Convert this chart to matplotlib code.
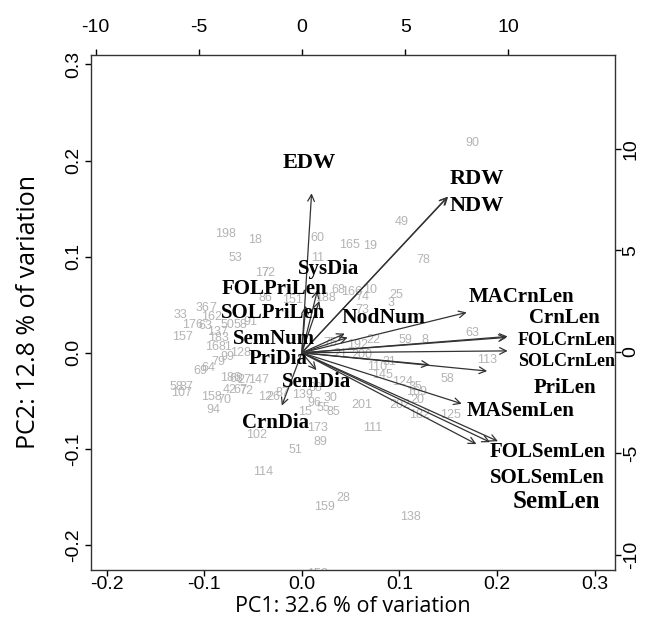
import matplotlib
matplotlib.use("Agg")
from matplotlib import pyplot as plt

plt.rcParams['axes.unicode_minus'] = False

# observation scores (top / right axes)
obs_labels = ['90', '198', '18', '60', '165', '19', '49', '78', '53', '11',
              '17', '72', '68', '166', '10', '74', '25', '3', '73', '151',
              '86', '188', '36', '7', '33', '162', '176', '63', '50', '58',
              '91', '157', '137', '183', '16', '81', '99', '128', '79', '64',
              '69', '58', '87', '107', '42', '67', '72', '158', '70', '94',
              '186', '68', '27', '147', '12', '26', '87', '139', '88', '30',
              '96', '55', '85', '15', '201', '202', '173', '111', '102', '89',
              '51', '114', '159', '28', '138', '63', '113', '58', '22', '59',
              '8', '110', '31', '145', '124', '35', '169', '20', '182', '125',
              '192', '200', '75', '21', '152']
obs_x = [8.23, -3.73, -2.28, 0.73, 2.32, 3.29, 4.84, 5.86, -3.24, 0.77,
         -1.94, -1.65, 1.74, 2.42, 3.29, 2.91, 4.55, 4.31, 2.91, -0.44,
         -1.79, 1.11, -4.84, -4.31, -5.91, -4.36, -5.28, -4.70, -3.63, -3.00,
         -2.52, -5.81, -4.12, -4.07, -4.36, -3.73, -3.63, -3.00, -4.07, -4.55,
         -4.94, -6.10, -5.62, -5.86, -3.49, -3.00, -2.71, -4.41, -3.78, -4.31,
         -3.49, -3.20, -2.81, -2.13, -1.79, -1.40, -0.97, 0.00, 0.63, 1.36,
         0.58, 1.02, 1.50, 0.15, 2.91, 4.75, 0.73, 3.44, -2.18, 0.87,
         -0.34, -1.89, 1.11, 1.99, 5.23, 8.23, 8.96, 7.02, 3.44, 4.99,
         5.96, 3.63, 4.26, 3.92, 4.89, 5.47, 5.57, 5.57, 5.71, 7.17,
         2.71, 2.91, 1.36, 1.84, 0.77]
obs_y = [10.30, 5.81, 5.52, 5.62, 5.27, 5.22, 6.40, 4.53, 4.63, 4.63,
         3.89, 3.89, 3.05, 2.96, 3.05, 2.71, 2.81, 2.41, 2.07, 2.56,
         2.66, 2.66, 2.17, 2.17, 1.82, 1.72, 1.33, 1.28, 1.33, 1.33,
         1.48, 0.74, 0.99, 0.69, 0.25, 0.25, -0.25, -0.05, -0.49, -0.79,
         -0.94, -1.72, -1.72, -2.02, -1.87, -1.87, -1.92, -2.22, -2.36, -2.86,
         -1.28, -1.33, -1.38, -1.38, -2.22, -2.22, -2.02, -2.12, -1.77, -2.27,
         -2.51, -2.76, -2.96, -2.96, -2.61, -2.61, -3.74, -3.74, -4.09, -4.43,
         -4.83, -5.91, -7.64, -7.19, -8.13, 0.94, -0.39, -1.33, 0.59, 0.59,
         0.59, -0.74, -0.49, -1.13, -1.48, -1.72, -1.97, -2.36, -3.10, -3.10,
         0.34, -0.15, 0.44, -0.10, -10.95]

# variable loadings (bottom / left axes)
var_names = ['EDW', 'RDW', 'NDW', 'SysDia', 'FOLPriLen', 'SOLPriLen',
             'NodNum', 'SemNum', 'MACrnLen', 'CrnLen', 'FOLCrnLen',
             'SOLCrnLen', 'PriLen', 'PriDia', 'SemDia', 'CrnDia',
             'MASemLen', 'FOLSemLen', 'SOLSemLen', 'SemLen']
load_x = [0.010, 0.150, 0.149, 0.016, 0.018, 0.004,
          0.044, 0.047, 0.169, 0.210, 0.211,
          0.211, 0.190, 0.131, 0.015, -0.0205,
          0.164, 0.201, 0.193, 0.179]
load_y = [0.166, 0.1625, 0.162, 0.065, 0.054, 0.049,
          0.020, 0.016, 0.042, 0.016, 0.017,
          0.002, -0.019, -0.0125, -0.018, -0.055,
          -0.053, -0.092, -0.093, -0.095]
lab_x = [0.008, 0.179, 0.179, 0.027, -0.028, -0.029,
         0.084, -0.029, 0.225, 0.269, 0.271,
         0.271, 0.270, -0.024, 0.015, -0.027,
         0.224, 0.252, 0.252, 0.261]
lab_y = [0.197, 0.181, 0.153, 0.0875, 0.0667, 0.0417,
         0.0365, 0.0146, 0.0583, 0.0365, 0.0125,
         -0.0094, -0.0365, -0.0063, -0.0302, -0.0729,
         -0.0604, -0.1031, -0.1302, -0.1552]
lab_size = [16, 16, 16, 15, 15, 15,
            15.5, 15, 15, 15, 13,
            13, 15, 15, 15, 15,
            15, 15, 15, 18]

fig = plt.figure(figsize=(6.46, 6.23), dpi=100)
pos = [0.141, 0.085, 0.811, 0.827]

# scores axes (top/right)
ax2 = fig.add_axes(pos)
ax2.set_xlim(-10.22, 15.16)
ax2.set_ylim(-10.74, 14.63)
ax2.xaxis.tick_top()
ax2.yaxis.tick_right()
ax2.set_xticks([-10, -5, 0, 5, 10])
ax2.set_yticks([-10, -5, 0, 5, 10])
for s in ax2.spines.values():
    s.set_visible(False)
ax2.tick_params(direction='out', length=4.5, width=1, labelsize=14,
                labelfontfamily='Liberation Sans')
ax2.tick_params(axis='x', pad=9)
ax2.tick_params(axis='y', labelrotation=90, pad=1)
for t in ax2.get_yticklabels():
    t.set_verticalalignment('center')
for lbl, x, y in zip(obs_labels, obs_x, obs_y):
    ax2.text(x, y, lbl, color='#b4b4b4', fontsize=9, ha='center', va='center',
             family='Liberation Sans', clip_on=True)

# loadings axes (bottom/left)
ax = fig.add_axes(pos)
ax.patch.set_visible(False)
ax.set_xlim(-0.216, 0.321)
ax.set_ylim(-0.226, 0.310)
ax.set_xticks([-0.2, -0.1, 0.0, 0.1, 0.2, 0.3])
ax.set_yticks([-0.2, -0.1, 0.0, 0.1, 0.2, 0.3])
ax.tick_params(direction='out', length=4.5, width=1, labelsize=14,
               labelfontfamily='Liberation Sans')
ax.tick_params(axis='x', pad=0)
ax.tick_params(axis='y', labelrotation=90, pad=2)
for t in ax.get_yticklabels():
    t.set_verticalalignment('center')
for s in ax.spines.values():
    s.set_linewidth(1)
    s.set_color('#333333')

for x, y in zip(load_x, load_y):
    ax.annotate('', xy=(x, y), xytext=(0, 0),
                arrowprops=dict(arrowstyle='->', lw=0.9, color='#333333',
                                shrinkA=0, shrinkB=0, mutation_scale=12))
for name, x, y, fs in zip(var_names, lab_x, lab_y, lab_size):
    ax.text(x, y, name, fontsize=fs, fontweight='bold', family='Liberation Serif',
            ha='center', va='center')

ax.set_xlabel('PC1: 32.6 % of variation', fontsize=15.5, family='Open Sans', labelpad=2)
ax.set_ylabel('PC2: 12.8 % of variation', fontsize=18, family='Open Sans', labelpad=17)

fig.savefig('out.png', dpi=100)
